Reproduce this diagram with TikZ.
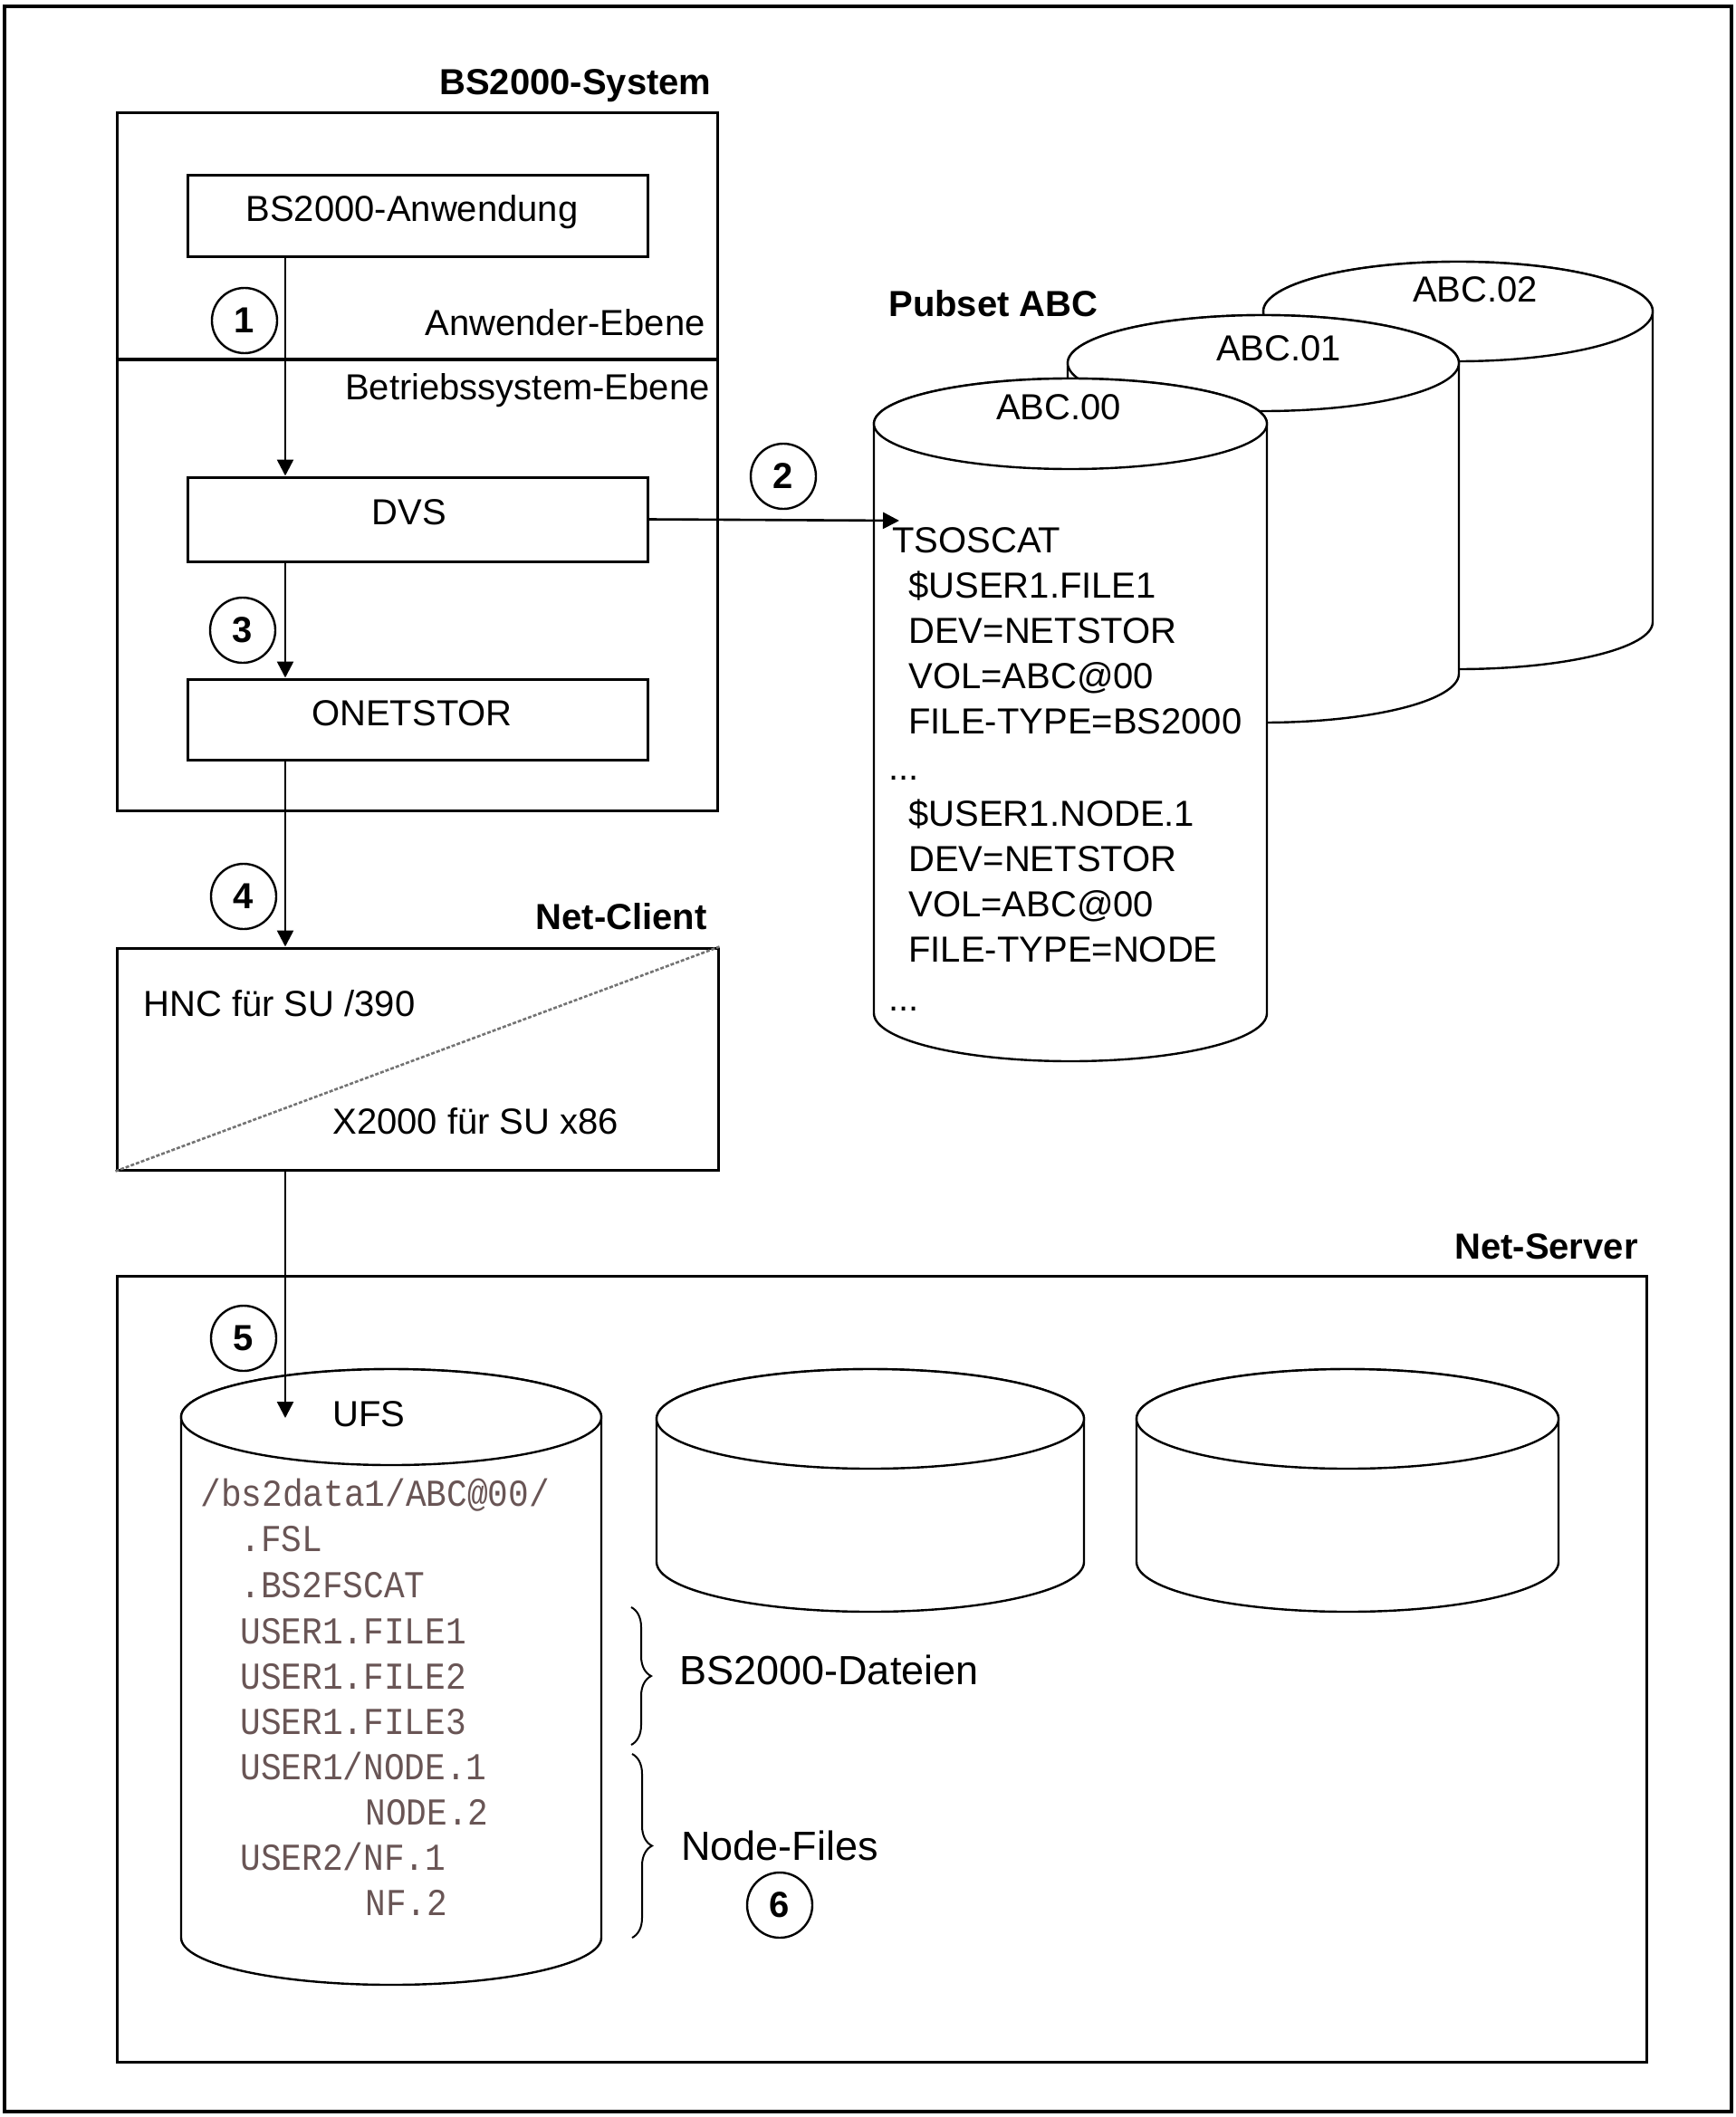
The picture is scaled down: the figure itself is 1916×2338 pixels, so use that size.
\documentclass[tikz,border=0pt]{standalone}
\usepackage{fontspec}
\setmainfont{Liberation Sans}
\newfontfamily\monof[FakeStretch=0.9]{Liberation Mono}
\usetikzlibrary{arrows.meta,fit,decorations.pathreplacing}
\definecolor{monocol}{RGB}{105,85,85}
\newcommand\sz{\fontsize{20pt}{24pt}\selectfont}
\newcommand\lsz{\fontsize{22.5pt}{27pt}\selectfont}
\newcommand\msz{\fontsize{21pt}{25pt}\selectfont}
\newcommand\cylshape[6]{%
  \filldraw[cyl] (#1-#2,#3) -- (#1-#2,#5) arc[start angle=180,end angle=0,x radius=#2,y radius=#6]
     -- (#1+#2,#3) arc[start angle=0,end angle=-180,x radius=#2,y radius=#4] -- cycle;
  \draw[cyl] (#1,#3) ellipse[x radius=#2,y radius=#4];
}
\begin{document}
\begin{tikzpicture}[x=0.5pt,y=-0.5pt,
  box/.style={draw,line width=1.5pt,inner sep=0pt},
  frame/.style={draw,line width=1.5pt,inner sep=0pt},
  num/.style={circle,draw,line width=1.2pt,minimum size=36pt,inner sep=0pt,font=\sz\bfseries},
  arr/.style={line width=1.3pt,-{Triangle[length=9pt,width=9pt]}},
  txt/.style={inner sep=0pt,font=\sz},
  ltxt/.style={inner sep=0pt,font=\lsz},
  ttl/.style={inner sep=0pt,font=\sz\bfseries},
  mono/.style={inner sep=0pt,font=\msz\monof,text=monocol,anchor=base west},
  cyl/.style={draw,fill=white,line width=1.2pt},
  brc/.style={decorate,decoration={brace,amplitude=11pt},line width=1pt},
]
\useasboundingbox (0,0) rectangle (1916,2338);
\node[frame,line width=1.8pt,fit={(5,7) (1912,2332)}] (outer) {};

% BS2000 system
\node[frame,fit={(129,125) (792,895)}] (sys) {};
\node[ttl,anchor=base east] (systitle) at (786,105) {BS2000-System};
\coordinate (lv) at (0,397);
\draw[line width=1.5pt] (sys.west |- lv) -- (sys.east |- lv);
\node[txt,anchor=base east] (anwe) at (779,371) {Anwender-Ebene};
\node[txt,anchor=base east] (bse) at (784,441) {Betriebssystem-Ebene};
\node[box,fit={(207,194) (715,284)}] (anw) {};
\node[box,fit={(207,527) (715,620)}] (dvs) {};
\node[box,fit={(207,750) (715,839)}] (onet) {};
\node[txt,anchor=base] (anwt) at (455,245) {BS2000-Anwendung};
\node[txt,anchor=base] (dvst) at (452,579) {DVS};
\node[txt,anchor=base] (onett) at (455,801) {ONETSTOR};

% Net-Client
\node[frame,fit={(129,1047) (793,1292)}] (nc) {};
\node[ttl,anchor=base east] (nctitle) at (781,1026) {Net-Client};
\draw[dash pattern=on 2pt off 1pt,black!55,line width=1.3pt] (nc.south west) -- (nc.north east);
\node[txt,anchor=base west] (hnc) at (158,1122) {HNC für SU /390};
\node[txt,anchor=base west] (x2k) at (367,1252) {X2000 für SU x86};

% Net-Server
\node[frame,fit={(129,1409) (1818,2277)}] (ns) {};
\node[ttl,anchor=base east] (nstitle) at (1809,1390) {Net-Server};

% Pubset cylinders
\cylshape{1610}{215}{344}{55}{687}{52}
\cylshape{1395}{216}{401}{53}{744}{54}
\cylshape{1182}{217}{468}{50}{1119}{53}
\node[ttl,anchor=base west] (pubset) at (981,350) {Pubset ABC};
\node[txt,anchor=base] (abc0) at (1169,463) {ABC.00};
\node[txt,anchor=base] (abc1) at (1412,399) {ABC.01};
\node[txt,anchor=base] (abc2) at (1629,334) {ABC.02};
\node[txt,anchor=base west] (t1) at (985,610) {TSOSCAT};
\node[txt,anchor=base west] (t2) at (1003,660) {\$USER1.FILE1};
\node[txt,anchor=base west] (t3) at (1003,710) {DEV=NETSTOR};
\node[txt,anchor=base west] (t4) at (1003,760) {VOL=ABC@00};
\node[txt,anchor=base west] (t5) at (1003,810) {FILE-TYPE=BS2000};
\node[txt,anchor=base west] (t6) at (981,861) {...};
\node[txt,anchor=base west] (t7) at (1003,912) {\$USER1.NODE.1};
\node[txt,anchor=base west] (t8) at (1003,962) {DEV=NETSTOR};
\node[txt,anchor=base west] (t9) at (1003,1012) {VOL=ABC@00};
\node[txt,anchor=base west] (t10) at (1003,1062) {FILE-TYPE=NODE};
\node[txt,anchor=base west] (t11) at (981,1116) {...};

% Server cylinders
\cylshape{432}{232}{1565}{53}{2140}{52}
\cylshape{961}{236}{1567}{55}{1725}{55}
\cylshape{1488}{233}{1567}{55}{1725}{55}
\node[txt,anchor=base west] (ufs) at (367,1575) {UFS};
\node[mono] (u1) at (221,1663) {/bs2data1/ABC@00/};
\node[mono] (u2) at (265,1713) {.FSL};
\node[mono] (u3) at (265,1764) {.BS2FSCAT};
\node[mono] (u4) at (265,1815) {USER1.FILE1};
\node[mono] (u5) at (265,1865) {USER1.FILE2};
\node[mono] (u6) at (265,1915) {USER1.FILE3};
\node[mono] (u7) at (265,1965) {USER1/NODE.1};
\node[mono] (u8) at (403,2015) {NODE.2};
\node[mono] (u9) at (265,2065) {USER2/NF.1};
\node[mono] (u10) at (403,2115) {NF.2};

\draw[brc] (697,1775) -- (697,1927);
\draw[brc] (698,1937) -- (698,2140);
\node[ltxt,anchor=base west] (bsd) at (750,1860) {BS2000-Dateien};
\node[ltxt,anchor=base west] (nf) at (752,2054) {Node-Files};

% connectors
\coordinate (ax) at (315,0);
\coordinate (tip2) at (993,575);
\coordinate (tip5) at (315,1566);
\draw[arr] (anw.south -| ax) -- (dvs.north -| ax);
\draw[arr] (dvs.south -| ax) -- (onet.north -| ax);
\draw[arr] (onet.south -| ax) -- (nc.north -| ax);
\draw[arr] (dvs.east) -- (tip2);
\draw[arr] (nc.south -| ax) -- (tip5);

% step numbers
\node[num] (c1) at (270,354) {1};
\node[num] (c2) at (865,526) {2};
\node[num] (c3) at (268,696) {3};
\node[num] (c4) at (269,990) {4};
\node[num] (c5) at (269,1478) {5};
\node[num] (c6) at (861,2104) {6};
\end{tikzpicture}
\end{document}
